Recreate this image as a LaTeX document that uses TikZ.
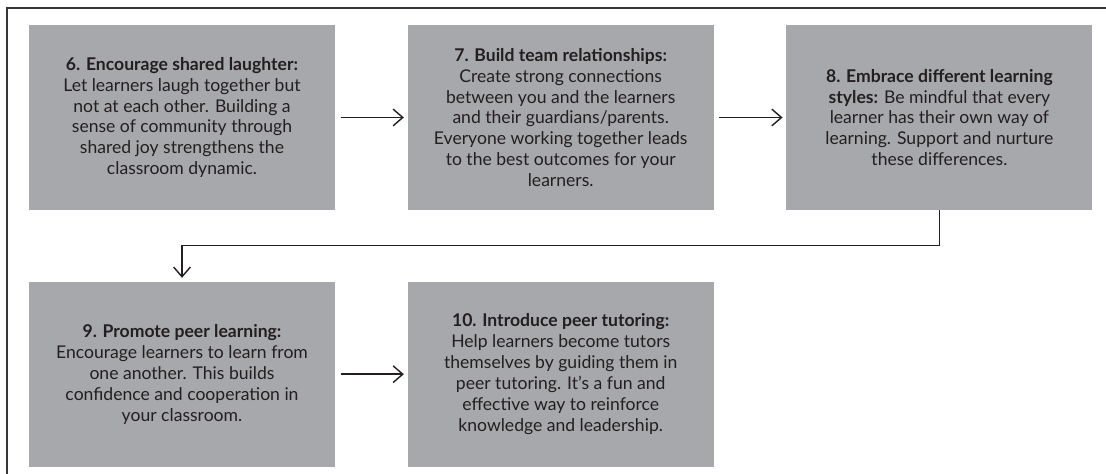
\documentclass[tikz,border=0pt]{standalone}
\usepackage{fontspec}
\setmainfont{Lato}
\usepackage{tikz}
\usetikzlibrary{positioning}
\usetikzlibrary{arrows.meta}
\definecolor{tipgray}{HTML}{A7A8AB}
\definecolor{tipink}{HTML}{231F20}
\tikzset{
  tipbox/.style={rectangle,draw=none,fill=tipgray,text=tipink,
    minimum width=6.12cm,minimum height=3.7cm,inner sep=0pt,
    align=center,font=\fontsize{10}{11.9}\selectfont},
  flow/.style={draw=tipink,line width=0.8pt,
    -{Straight Barb[length=5.5pt,width=9.5pt,line width=0.8pt]},
    shorten <=3pt,shorten >=2pt}
}
\newcommand{\tiphead}[1]{\textbf{#1}}

\begin{document}
\begin{tikzpicture}
        \useasboundingbox (0,0) rectangle (22.12,9.48);
        % outer frame, cut off at the right and the bottom
        \begin{scope}
        \clip (0,0) rectangle (22.12,9.48);
        \draw[line width=1.6pt,draw=tipink!90] (0.14,-1) rectangle (23,9.32);
        \end{scope}

        % row 1
        \node[tipbox] (tip6) at (3.64,7.13) {\tiphead{6. Encourage shared laughter:}\\
          Let learners laugh together but\\ not at each other. Building a\\
          sense of community through\\ shared joy strengthens the\\ classroom dynamic.};
        \node[tipbox,right=1.44cm of tip6] (tip7) {\tiphead{7. Build team relationships:}\\
          Create strong connections\\ between you and the learners\\
          and their guardians/parents.\\ Everyone working together leads\\
          to the best outcomes for your\\ learners.};
        \node[tipbox,right=1.44cm of tip7] (tip8) {\tiphead{8. Embrace different learning}\\
          \tiphead{styles:} Be mindful that every\\ learner has their own way of\\
          learning. Support and nurture\\ these differences.};

        % row 2
        \node[tipbox,below=1.42cm of tip6] (tip9) {\tiphead{9. Promote peer learning:}\\
          Encourage learners to learn from\\ one another. This builds\\
          confidence and cooperation in\\ your classroom.};
        \node[tipbox,right=1.44cm of tip9] (tip10) {\tiphead{10. Introduce peer tutoring:}\\
          Help learners become tutors\\ themselves by guiding them in\\
          peer tutoring. It’s a fun and\\ effective way to reinforce\\
          knowledge and leadership.};

        % arrows
        \draw[flow] (tip6) -- (tip7);
        \draw[flow] (tip7) -- (tip8);
        \draw[flow,shorten <=0pt] (tip8.south) -- ++(0,-0.7) -| (tip9.north);
        \draw[flow] (tip9) -- (tip10);
\end{tikzpicture}
\end{document}
